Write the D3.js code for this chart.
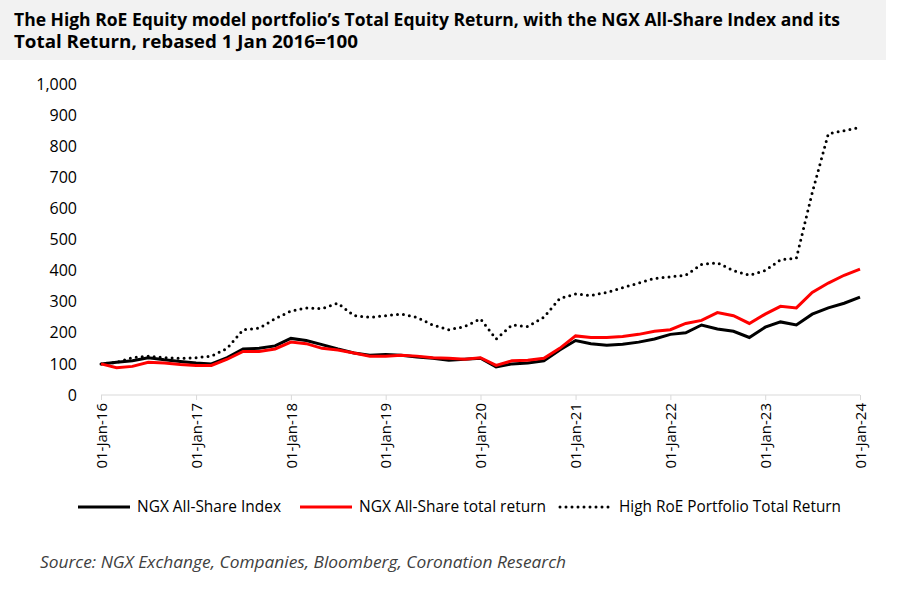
<!DOCTYPE html>
<html><head><meta charset="utf-8">
<script src="https://cdn.jsdelivr.net/npm/d3@7"></script>
<style>body{margin:0;background:#fff;font-family:"Open Sans",Calibri,sans-serif}</style>
</head><body><div id="chart"></div>
<script>
// bimonthly observations, Jan 2016 .. Jan 2024
const startYear = 2016;
const ngxIndex = [100,105,110,120,113,108, 103,100,120,148,150,158, 182,175,162,148,135,128,
  130,128,122,118,112,115, 118,90,100,103,110,145, 175,165,160,163,170,180,
  195,200,225,212,205,185, 218,235,225,260,280,295, 315];
const ngxTotal = [100,88,92,105,103,98, 95,95,115,140,140,148, 170,165,150,145,135,125,
  125,128,125,120,118,115, 120,95,110,112,118,150, 190,185,185,188,195,205,
  210,230,240,265,255,230, 260,285,280,330,360,385, 405];
const highRoe = [100,105,120,125,120,118, 120,125,150,210,215,245, 270,280,278,295,255,250,
  255,260,250,225,210,220, 245,180,225,220,250,310, 325,320,330,345,360,375,
  380,385,420,425,400,385, 400,435,440,650,840,850, 860];
const yTicks = [0,100,200,300,400,500,600,700,800,900,1000];
const xTicks = ["01-Jan-16","01-Jan-17","01-Jan-18","01-Jan-19","01-Jan-20","01-Jan-21","01-Jan-22","01-Jan-23","01-Jan-24"];

const W = 900, H = 609;
const svg = d3.select("#chart").append("svg").attr("width", W).attr("height", H);

svg.append("rect").attr("x", 0).attr("y", 0).attr("width", 886).attr("height", 60).attr("fill", "#f2f2f2");
svg.append("text").attr("x", 14).attr("y", 26).attr("font-weight", "bold").attr("font-size", 17.5)
  .attr("textLength", 826).attr("lengthAdjust", "spacingAndGlyphs")
  .text("The High RoE Equity model portfolio\u2019s Total Equity Return, with the NGX All-Share Index and its");
svg.append("text").attr("x", 14).attr("y", 48).attr("font-weight", "bold").attr("font-size", 17.5)
  .attr("textLength", 344).attr("lengthAdjust", "spacingAndGlyphs")
  .text("Total Return, rebased 1 Jan 2016=100");

const dates = ngxIndex.map((d, i) => new Date(startYear, i * 2, 1));
const x = d3.scaleTime().domain([new Date(2016, 0, 1), new Date(2024, 0, 1)]).range([101, 860]);
const y = d3.scaleLinear().domain([0, 1000]).range([395, 84]);

const ya = svg.append("g").attr("transform", "translate(80,0)")
  .call(d3.axisLeft(y).tickValues(yTicks).tickSize(0).tickFormat(d3.format(",")));
ya.select(".domain").remove();
ya.selectAll("text").attr("font-size", 16).attr("fill", "#000").attr("font-family", "Open Sans, sans-serif");

const xa = svg.append("g").attr("transform", "translate(0,395)")
  .call(d3.axisBottom(x).tickValues(xTicks.map((t, i) => new Date(startYear + i, 0, 1))).tickSize(5)
    .tickFormat((d, i) => xTicks[i]));
xa.select(".domain").attr("stroke", "#d9d9d9").attr("d", "M101,0H860");
xa.selectAll(".tick line").attr("stroke", "#d9d9d9");
xa.selectAll("text").attr("font-size", 15).attr("fill", "#000").attr("font-family", "Open Sans, sans-serif")
  .attr("transform", "rotate(-90)").attr("text-anchor", "end").attr("x", -8).attr("y", 0).attr("dy", "0.35em");

const line = d3.line().x((d, i) => x(dates[i])).y(d => y(d));
svg.append("path").datum(highRoe).attr("d", line).attr("fill", "none").attr("stroke", "#000")
  .attr("stroke-width", 3).attr("stroke-dasharray", "0 6").attr("stroke-linecap", "round");
svg.append("path").datum(ngxIndex).attr("d", line).attr("fill", "none").attr("stroke", "#000").attr("stroke-width", 3);
svg.append("path").datum(ngxTotal).attr("d", line).attr("fill", "none").attr("stroke", "#ff0000").attr("stroke-width", 3);

const legend = [
  {label: "NGX All-Share Index", x: 78, w: 144, color: "#000", dash: null},
  {label: "NGX All-Share total return", x: 300, w: 187, color: "#ff0000", dash: null},
  {label: "High RoE Portfolio Total Return", x: 560, w: 222, color: "#000", dash: "0 6"}
];
legend.forEach(l => {
  svg.append("line").attr("x1", l.x).attr("x2", l.x + 52).attr("y1", 507).attr("y2", 507)
    .attr("stroke", l.color).attr("stroke-width", 3).attr("stroke-linecap", l.dash ? "round" : "butt")
    .attr("stroke-dasharray", l.dash);
  svg.append("text").attr("x", l.x + 59).attr("y", 512).attr("font-size", 15.5)
    .attr("textLength", l.w).attr("lengthAdjust", "spacingAndGlyphs").text(l.label);
});

svg.append("text").attr("x", 40).attr("y", 568).attr("font-size", 17).attr("font-style", "italic")
  .attr("textLength", 526).attr("lengthAdjust", "spacingAndGlyphs")
  .attr("fill", "#404040").text("Source: NGX Exchange, Companies, Bloomberg, Coronation Research");
</script></body></html>
